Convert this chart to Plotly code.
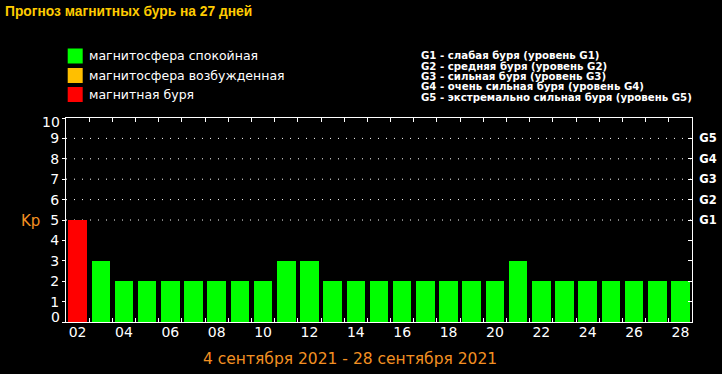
import plotly.graph_objects as go

# ---- data ----
days = list(range(2, 29))
kp_values = [5, 3, 2, 2, 2, 2, 2, 2, 2, 3, 3, 2, 2, 2, 2, 2, 2, 2, 2, 3, 2, 2, 2, 2, 2, 2, 2]
x_tick_vals = list(range(2, 29, 2))
x_tick_text = ["%02d" % d for d in x_tick_vals]
y_tick_vals = list(range(0, 11))
g_levels = [5, 6, 7, 8, 9]
g_labels = ["G1", "G2", "G3", "G4", "G5"]
g_descriptions = [
    "G1 - слабая буря (уровень G1)",
    "G2 - средняя буря (уровень G2)",
    "G3 - сильная буря (уровень G3)",
    "G4 - очень сильная буря (уровень G4)",
    "G5 - экстремально сильная буря (уровень G5)",
]
legend_labels = ["магнитосфера спокойная", "магнитосфера возбужденная", "магнитная буря"]
legend_colors = ["#00ff00", "#ffbf00", "#ff0000"]
title_text = "Прогноз магнитных бурь на 27 дней"
period_text = "4 сентября 2021 - 28 сентября 2021"

W, H = 722, 374
L, R, T, B = 66.3, 692.3, 118, 322

def px(x):
    return (x - L) / (R - L)

def py(y):
    return (B - y) / (B - T)

def color_for(v):
    if v >= 5:
        return legend_colors[2]
    if v == 4:
        return legend_colors[1]
    return legend_colors[0]

ORANGE = "#f39022"

fig = go.Figure()
fig.add_trace(go.Bar(
    x=days, y=kp_values, width=0.8,
    marker=dict(color=[color_for(v) for v in kp_values], line=dict(width=0)),
    hoverinfo="skip",
))
# invisible trace for the right axis
fig.add_trace(go.Scatter(x=[days[0]], y=[0], yaxis="y2", xaxis="x2", mode="markers",
                         marker=dict(opacity=0), hoverinfo="skip", showlegend=False))

boundaries = [d + 0.5 for d in days[:-1]]

fig.update_layout(
    width=W, height=H, autosize=False,
    margin=dict(l=L, r=W - R, t=T, b=H - B, pad=0, autoexpand=False),
    paper_bgcolor="black", plot_bgcolor="black",
    showlegend=False,
    bargap=0,
    xaxis=dict(
        range=[1.5, 28.5], tickvals=boundaries, ticks="inside", ticklen=4,
        tickcolor="white", showticklabels=False, showline=True, linecolor="white",
        linewidth=1, mirror="ticks", showgrid=False, zeroline=False, fixedrange=True,
        automargin=False,
    ),
    xaxis2=dict(
        range=[1.5, 28.5], overlaying="x", side="bottom", tickvals=x_tick_vals,
        ticktext=x_tick_text, ticks="", showline=False, showgrid=False, zeroline=False,
        tickfont=dict(family="DejaVu Sans", size=14, color="white"),
        fixedrange=True, automargin=False,
    ),
    yaxis=dict(
        range=[0, 10], tickvals=y_tick_vals,
        ticktext=["" if v in (0, 10) else str(v) for v in y_tick_vals],
        ticks="outside", ticklen=3, tickcolor="white", showline=True,
        linecolor="white", linewidth=1, showgrid=False, zeroline=False,
        tickfont=dict(family="DejaVu Sans", size=14, color="white"), fixedrange=True,
        automargin=False,
    ),
    yaxis2=dict(
        range=[0, 10], overlaying="y", side="right", tickvals=list(range(1, 10)),
        ticktext=["", "", "", ""] + g_labels, ticks="inside", ticklen=4,
        tickcolor="white", showline=True, linecolor="white", linewidth=1,
        showgrid=False, zeroline=False, ticklabelstandoff=4,
        tickfont=dict(family="DejaVu Sans", size=11.5, color="white", weight="bold"),
        fixedrange=True, automargin=False,
    ),
)

shapes = []
for lvl in g_levels:
    shapes.append(dict(type="line", xref="paper", yref="y", x0=0, x1=1, y0=lvl, y1=lvl,
                       line=dict(color="white", width=1, dash="1px,7px"), layer="below"))
legend_y = [56, 75.5, 94.5]
for c, yy in zip(legend_colors, legend_y):
    shapes.append(dict(type="rect", xref="paper", yref="paper",
                       x0=px(68), x1=px(83), y0=py(yy + 7.5), y1=py(yy - 7.5),
                       fillcolor=c, line=dict(width=0)))
fig.update_layout(shapes=shapes)

ann = []
ann.append(dict(text="<b>%s</b>" % title_text, x=px(3), y=py(11), xref="paper", yref="paper",
                xanchor="left", yanchor="middle", showarrow=False,
                font=dict(family="Liberation Sans", size=13.8, color="#ffcc00")))
for lab, yy in zip(legend_labels, legend_y):
    ann.append(dict(text=lab, x=px(87), y=py(yy), xref="paper", yref="paper",
                    xanchor="left", yanchor="middle", showarrow=False,
                    font=dict(family="DejaVu Sans", size=12.5, color="white")))
g_line_y = [55, 66, 76, 86.7, 97.3]
for t, yy in zip(g_descriptions, g_line_y):
    ann.append(dict(text="<b>%s</b>" % t, x=px(419), y=py(yy), xref="paper", yref="paper",
                    xanchor="left", yanchor="middle", showarrow=False,
                    font=dict(family="DejaVu Sans", size=10.2, color="white")))
ann.append(dict(text="Kp", x=px(31), y=py(221), xref="paper", yref="paper",
                xanchor="center", yanchor="middle", showarrow=False,
                font=dict(family="DejaVu Sans", size=15, color=ORANGE)))
ann.append(dict(text=period_text, x=px(350), y=py(359), xref="paper", yref="paper",
                xanchor="center", yanchor="middle", showarrow=False,
                font=dict(family="DejaVu Sans", size=15.5, color=ORANGE)))
# end labels of the Kp scale, pulled inside the frame
ann.append(dict(text=str(y_tick_vals[-1]), x=0, y=y_tick_vals[-1], xref="paper", yref="y",
                xanchor="right", yanchor="middle", xshift=-4, yshift=-4, showarrow=False,
                font=dict(family="DejaVu Sans", size=14, color="white")))
ann.append(dict(text=str(y_tick_vals[0]), x=0, y=y_tick_vals[0], xref="paper", yref="y",
                xanchor="right", yanchor="middle", xshift=-4, yshift=5, showarrow=False,
                font=dict(family="DejaVu Sans", size=14, color="white")))
fig.update_layout(annotations=ann)

fig.write_html("out.html", config={"displayModeBar": False},
               post_script="document.body.style.margin='0';document.body.style.overflow='hidden';")
